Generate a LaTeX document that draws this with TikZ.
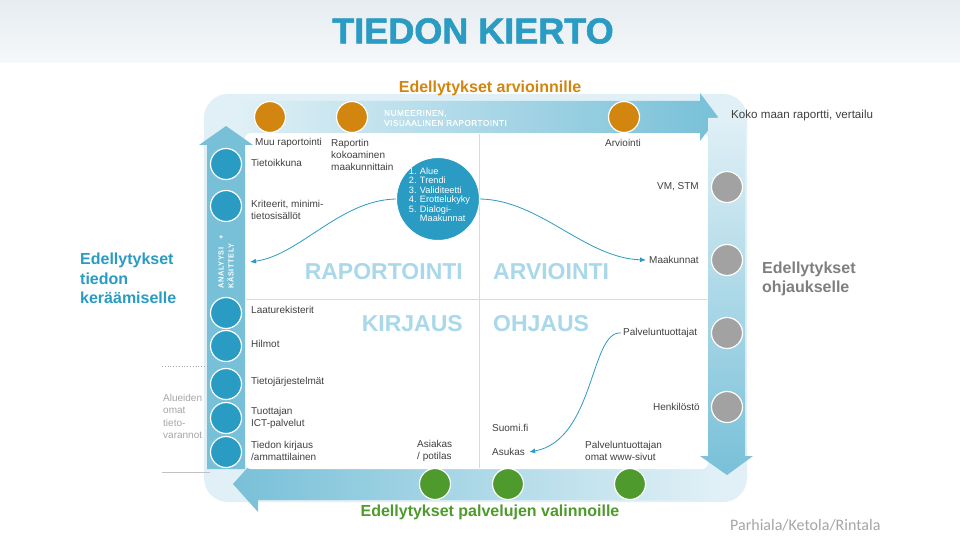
\documentclass[tikz,border=0pt]{standalone}
\usepackage{fontspec}
\setmainfont{Liberation Sans}
\newfontfamily\carl{Carlito}
\newfontfamily\spaced[LetterSpace=8]{Liberation Sans}
\newfontfamily\numfont[LetterSpace=6,FakeBold=0.6]{Liberation Sans}
\newfontfamily\titlefont[BoldFeatures={FakeBold=1.6}]{Liberation Sans}
\usetikzlibrary{arrows.meta}
\definecolor{tblue}{HTML}{2A9BC3}
\definecolor{arrblue}{HTML}{78C0D8}
\definecolor{loopc}{HTML}{E0F0F6}
\definecolor{quadtxt}{HTML}{A9D8EA}
\definecolor{qline}{HTML}{C2E2ED}
\definecolor{orng}{HTML}{D2860F}
\definecolor{grn}{HTML}{4E9A2C}
\definecolor{gcirc}{HTML}{A2A2A2}
\definecolor{txt}{HTML}{404040}
\definecolor{lgray}{HTML}{A6A6A6}
\definecolor{dgray}{HTML}{7F7F7F}
\definecolor{hdtop}{HTML}{E6ECF0}
\definecolor{hdbot}{HTML}{F6F8FA}
\begin{document}
\begin{tikzpicture}[x=1pt,y=-1pt,
  lbl/.style={inner sep=0pt, text=txt, font=\fontsize{10}{12}\selectfont, align=left},
  dot/.style={circle, minimum size=31pt, inner sep=0pt, draw=white, line width=1.2pt},
  bdot/.style={dot, fill=tblue},
  odot/.style={dot, fill=orng},
  gdot/.style={dot, fill=grn},
  ydot/.style={dot, fill=gcirc},
  quad/.style={inner sep=0pt, text=quadtxt, font=\fontsize{23}{23}\selectfont\bfseries},
  headtxt/.style={inner sep=0pt, font=\fontsize{16}{19.5}\selectfont\bfseries, align=left},
  flow/.style={draw=tblue, line width=0.8pt, -{Latex[length=6pt,width=5pt]}}
]
\useasboundingbox (0,0) rectangle (960,540);
\fill[white] (0,0) rectangle (960,540);
\shade[top color=hdtop, bottom color=hdbot] (0,0) rectangle (960,63);
\node[inner sep=0pt, font=\titlefont\bfseries\fontsize{36}{37}\selectfont, text=tblue] (title) at (473,31) {TIEDON KIERTO};

% light loop
\fill[loopc, rounded corners=24pt] (204,94) rectangle (747,502);
% bottom arrow (partly under white)
\shade[left color=arrblue, right color=loopc] (716,467) -- (258,467) -- (258,456) -- (233,484) -- (258,512) -- (258,500) -- (716,500) -- cycle;
% white inner area
\fill[white, rounded corners=6pt] (245,133) rectangle (708,469);
% top arrow
\shade[left color=loopc, right color=arrblue] (235,101) -- (700,101) -- (700,93) -- (718,117) -- (700,141) -- (700,133) -- (235,133) -- cycle;
% right arrow
\shade[top color=loopc, bottom color=arrblue] (708,118) -- (708,456) -- (700,456) -- (727,475) -- (753,456) -- (745,456) -- (745,118) -- cycle;
% left arrow
\fill[arrblue] (207,469) -- (207,145) -- (199,145) -- (226,126) -- (253,145) -- (245,145) -- (245,469) -- cycle;

% quadrant lines
\draw[qline, line width=1pt] (479,134) -- (479,468);
\draw[qline, line width=1pt] (246,299) -- (707,299);

% quadrant titles
\node[quad, anchor=east] (qrap) at (463,272) {RAPORTOINTI};
\node[quad, anchor=west] (qarv) at (493,272) {ARVIOINTI};
\node[quad, anchor=east] (qkir) at (463,324) {KIRJAUS};
\node[quad, anchor=west] (qohj) at (493,324) {OHJAUS};

% headings
\node[inner sep=0pt, text=orng, font=\fontsize{16}{19}\selectfont\bfseries] (harv) at (490,88) {Edellytykset arvioinnille};
\node[inner sep=0pt, text=grn, font=\fontsize{16}{19}\selectfont\bfseries] (hval) at (490,512) {Edellytykset palvelujen valinnoille};
\node[headtxt, text=tblue, anchor=west] (hker) at (80,278.5) {Edellytykset\\tiedon\\keräämiselle};
\node[headtxt, text=dgray, anchor=west] (hohj) at (762,279) {Edellytykset\\ohjaukselle};
\node[inner sep=0pt, anchor=west, text=lgray, font=\carl\fontsize{16}{18}\selectfont] (auth) at (730,525) {Parhiala/Ketola/Rintala};
\node[inner sep=0pt, anchor=west, text=txt, font=\fontsize{11.6}{13}\selectfont] (koko) at (731,116) {Koko maan raportti, vertailu};

% top arrow text
\node[inner sep=0pt, anchor=west, text=white, align=left, font=\numfont\fontsize{8.2}{10}\selectfont] (numv) at (384,118) {NUMEERINEN,\\VISUAALINEN RAPORTOINTI};
% left arrow text
\node[inner sep=0pt, rotate=90, text=white, align=left, font=\spaced\fontsize{7.4}{10}\selectfont\bfseries] (anal) at (226,262) {ANALYYSI\ \ \ +\\KÄSITTELY};

% circles
\node[odot] (o1) at (270,117) {};
\node[odot] (o2) at (352,117) {};
\node[odot] (o3) at (624,117) {};
\node[bdot] (b1) at (226,164) {};
\node[bdot] (b2) at (226,206) {};
\node[bdot] (b3) at (226,313) {};
\node[bdot] (b4) at (226,346) {};
\node[bdot] (b5) at (226,384) {};
\node[bdot] (b6) at (226,418) {};
\node[bdot] (b7) at (226,452) {};
\node[ydot] (y1) at (727,187) {};
\node[ydot] (y2) at (727,260) {};
\node[ydot] (y3) at (727,333) {};
\node[ydot] (y4) at (727,407) {};
\node[gdot] (g1) at (435,484) {};
\node[gdot] (g2) at (508,484) {};
\node[gdot] (g3) at (630,484) {};

% center circle
\node[circle, fill=tblue, draw=white, line width=1pt, minimum size=83pt, inner sep=0pt] (ctr) at (438,199) {};
\node[inner sep=0pt, text=white, align=left, font=\fontsize{9.2}{9.5}\selectfont] (lst) at (439.5,194.5) {1. Alue\\2. Trendi\\3. Validiteetti\\4. Erottelukyky\\5. Dialogi-\\\phantom{5. }Maakunnat};

% labels
\node[lbl, anchor=west] (muu) at (255,142.5) {Muu raportointi};
\node[lbl, anchor=west] (rapk) at (331,154.5) {Raportin\\kokoaminen\\maakunnittain};
\node[lbl, anchor=west] (tiet) at (251,163) {Tietoikkuna};
\node[lbl, anchor=west] (krit) at (251,209.5) {Kriteerit, minimi-\\tietosisällöt};
\node[lbl, anchor=west] (laat) at (251,310) {Laaturekisterit};
\node[lbl, anchor=west] (hilm) at (251,344) {Hilmot};
\node[lbl, anchor=west] (tjar) at (251,382) {Tietojärjestelmät};
\node[lbl, anchor=west] (tuot) at (251,417.5) {Tuottajan\\ICT-palvelut};
\node[lbl, anchor=west] (tkir) at (251,451) {Tiedon kirjaus\\/ammattilainen};
\node[lbl, anchor=west] (asia) at (417,451) {Asiakas\\/ potilas};
\node[lbl, anchor=west] (suom) at (492,427.5) {Suomi.fi};
\node[lbl, anchor=west] (asuk) at (492,452) {Asukas};
\node[lbl, anchor=west] (pwww) at (585,451) {Palveluntuottajan\\omat www-sivut};
\node[lbl, anchor=east] (henk) at (700,407) {Henkilöstö};
\node[lbl, anchor=west] (palt) at (623,333) {Palveluntuottajat};
\node[lbl, anchor=west] (maak) at (649,260) {Maakunnat};
\node[lbl, anchor=east] (vmst) at (699,187) {VM, STM};
\node[lbl] (arvi) at (623,142.5) {Arviointi};
\node[lbl, anchor=west, text=lgray, font=\fontsize{10}{12.3}\selectfont] (alue) at (163,416.5) {Alueiden\\omat\\tieto-\\varannot};

% side separator lines
\draw[lgray, dotted, line width=0.8pt] (162,366) -- (208,366);
\draw[lgray!70, line width=0.6pt] (162,472) -- (210,472);

% connectors
\coordinate (lt) at (250,262);
\draw[flow] (ctr.west) .. controls (340,200) and (300,255) .. (lt);
\draw[flow] (ctr.east) .. controls (540,200) and (585,258) .. ([xshift=-3pt]maak.west);
\draw[flow] ([xshift=-2pt]palt.west) .. controls (590,330) and (595,440) .. ([xshift=4pt]asuk.east);
\end{tikzpicture}
\end{document}
